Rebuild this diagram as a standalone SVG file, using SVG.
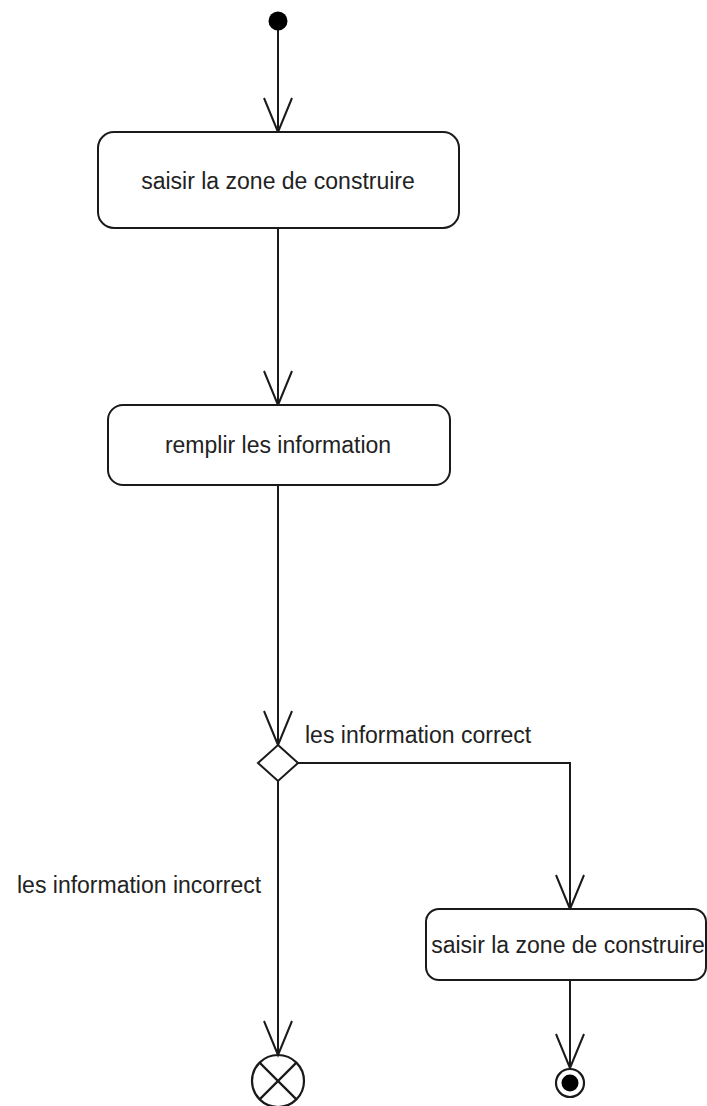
<svg xmlns="http://www.w3.org/2000/svg" width="707" height="1106" viewBox="0 0 707 1106">
  <style>
    .action { fill: #ffffff; stroke: #1a1a1a; stroke-width: 2; }
    .label { font-family: "Liberation Sans", Arial, sans-serif; font-size: 23px; fill: #222222; }
    .center { text-anchor: middle; }
    .flow { fill: none; stroke: #1a1a1a; stroke-width: 2; }
    .node-line { fill: none; stroke: #1a1a1a; stroke-width: 2.2; }
  </style>
  <defs>
    <marker id="open-arrow" markerUnits="userSpaceOnUse" markerWidth="40" markerHeight="32" refX="0" refY="0" orient="auto" overflow="visible">
      <path d="M -34 -14 L 0 0 L -34 14" fill="none" stroke="#1a1a1a" stroke-width="2"/>
    </marker>
  </defs>
  <rect width="707" height="1106" fill="#ffffff"/>

  <!-- transitions -->
  <g id="connectors">
    <path class="flow" d="M 278 30 L 278 132" marker-end="url(#open-arrow)"/>
    <path class="flow" d="M 278 228 L 278 405" marker-end="url(#open-arrow)"/>
    <path class="flow" d="M 278 485 L 278 745" marker-end="url(#open-arrow)"/>
    <path class="flow" d="M 298 763 L 570 763 L 570 909" marker-end="url(#open-arrow)"/>
    <path class="flow" d="M 278 781 L 278 1055" marker-end="url(#open-arrow)"/>
    <path class="flow" d="M 570 980 L 570 1068" marker-end="url(#open-arrow)"/>
    <text class="label" x="305" y="743">les information correct</text>
    <text class="label" x="17" y="893">les information incorrect</text>
  </g>

  <!-- start -->
  <g id="initial">
    <circle cx="278" cy="21" r="9.5" fill="#000000"/>
  </g>

  <g id="saisir-zone">
    <rect class="action" x="98" y="132" width="361" height="96" rx="16" ry="16"/>
    <text class="label center" x="278" y="189">saisir la zone de construire</text>
  </g>

  <g id="remplir">
    <rect class="action" x="108" y="405" width="342" height="80" rx="15" ry="15"/>
    <text class="label center" x="278" y="453">remplir les information</text>
  </g>

  <g id="decision">
    <polygon class="action" points="278,745 298,763 278,781 258,763"/>
  </g>

  <g id="saisir-zone-2">
    <rect class="action" x="426" y="909" width="280" height="71" rx="13" ry="13"/>
    <text class="label center" x="568" y="953">saisir la zone de construire</text>
  </g>

  <!-- flow final -->
  <g id="flow-final">
    <circle class="node-line" cx="278" cy="1081" r="26" fill="#ffffff"/>
    <path class="node-line" d="M 259.6 1062.6 L 296.4 1099.4 M 296.4 1062.6 L 259.6 1099.4"/>
  </g>

  <!-- activity final -->
  <g id="activity-final">
    <circle cx="570" cy="1083" r="14" fill="#ffffff" stroke="#1a1a1a" stroke-width="2.2"/>
    <circle cx="570" cy="1083" r="8.5" fill="#000000"/>
  </g>
</svg>
